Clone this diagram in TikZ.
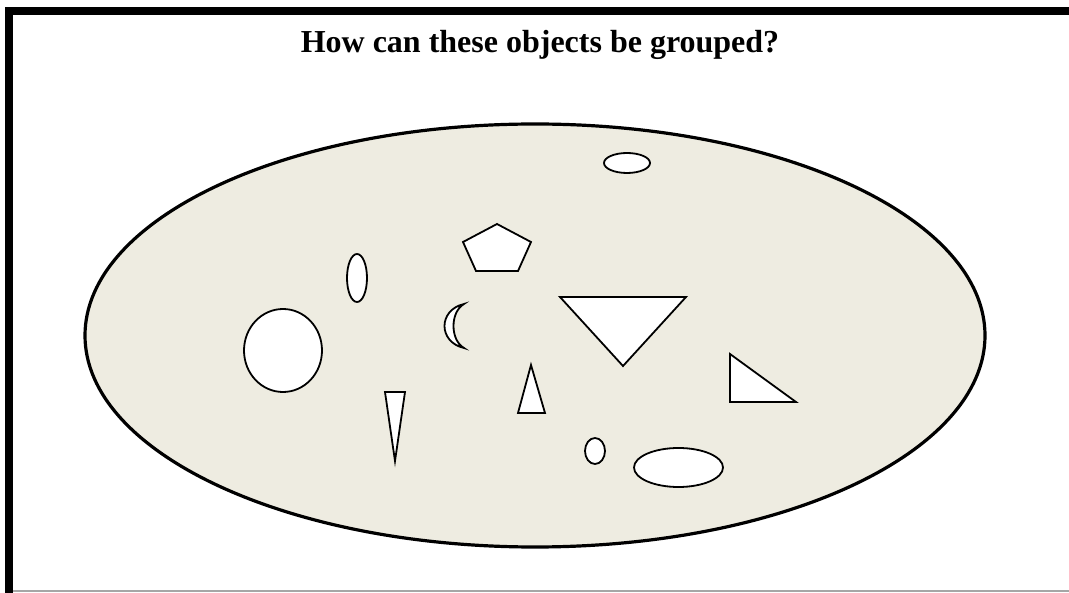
\documentclass[tikz,border=0pt]{standalone}
\usepackage{fontspec}
\setmainfont{Liberation Serif}
\definecolor{bgbeige}{HTML}{EEECE1}
\begin{document}
\begin{tikzpicture}[x=1pt,y=-1pt,
  shapeobj/.style={draw=black,fill=white,line width=1.8pt,line join=miter},
  frameline/.style={fill=black}]
\useasboundingbox (0,0) rectangle (1069,593);
\fill[white] (0,0) rectangle (1069,593);
% frame
\fill[frameline] (5,7) rectangle (1069,15);
\fill[frameline] (5,7) rectangle (13,593);
\draw[gray!70,line width=1.2pt] (13,591) -- (1069,591);
% title
\node[font=\bfseries\fontsize{32}{36}\selectfont,anchor=base] (title) at (540,53) {How can these objects be grouped?};
% big ellipse
\draw[fill=bgbeige,line width=3.2pt] (535,335.5) ellipse [x radius=450, y radius=211.5];
% objects
\draw[shapeobj] (627,163) ellipse [x radius=23, y radius=10];
\draw[shapeobj] (497,224) -- (531,242) -- (518,271) -- (476,271) -- (463,242) -- cycle;
\draw[shapeobj] (357,278) ellipse [x radius=10, y radius=24];
\draw[shapeobj] (464,304) .. controls (438,310) and (438,342) .. (464,348) .. controls (450,340) and (450,312) .. (464,304) -- cycle;
\draw[shapeobj] (283,350.5) ellipse [x radius=39, y radius=41.5];
\draw[shapeobj] (385,392) -- (405,392) -- (395,461) -- cycle;
\draw[shapeobj] (560,297) -- (686,297) -- (623,366) -- cycle;
\draw[shapeobj] (531,365) -- (545,413) -- (518,413) -- cycle;
\draw[shapeobj] (730,354) -- (796,402) -- (730,402) -- cycle;
\draw[shapeobj] (595,451) ellipse [x radius=10, y radius=13];
\draw[shapeobj] (678.5,467.5) ellipse [x radius=44.5, y radius=19.5];
\end{tikzpicture}
\end{document}
